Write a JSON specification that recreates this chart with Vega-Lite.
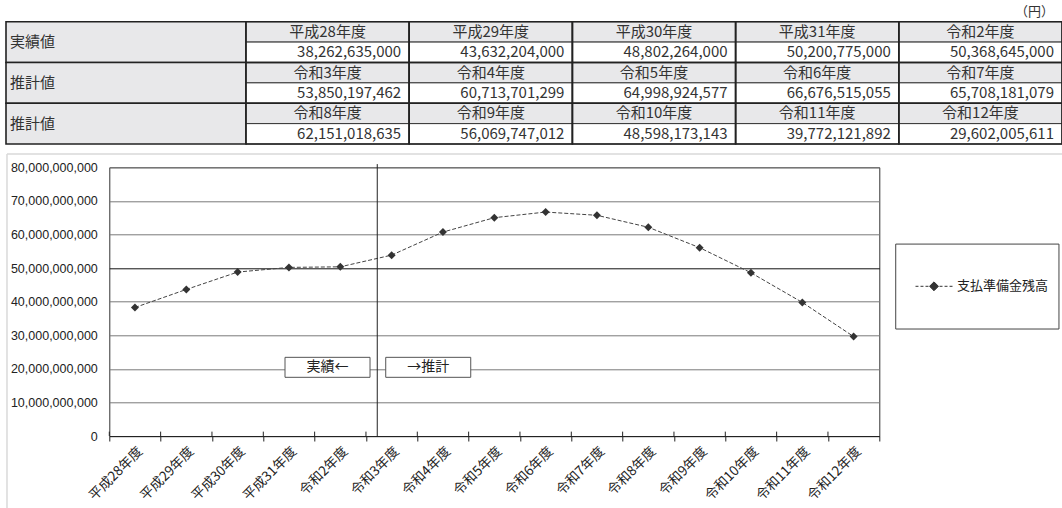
{
  "$schema": "https://vega.github.io/schema/vega-lite/v6.json",
  "autosize": {"type": "none"},
  "width": 770,
  "height": 268.7,
  "padding": {"left": 109.3, "top": 167.3, "right": 182.7, "bottom": 72},
  "background": "white",
  "config": {"view": {"stroke": "#333", "strokeWidth": 1}},
  "datasets": {
    "series": [
      {"year": "平成28年度", "value": 38262635000, "grp": 1, "col": 1},
      {"year": "平成29年度", "value": 43632204000, "grp": 1, "col": 2},
      {"year": "平成30年度", "value": 48802264000, "grp": 1, "col": 3},
      {"year": "平成31年度", "value": 50200775000, "grp": 1, "col": 4},
      {"year": "令和2年度", "value": 50368645000, "grp": 1, "col": 5},
      {"year": "令和3年度", "value": 53850197462, "grp": 2, "col": 1},
      {"year": "令和4年度", "value": 60713701299, "grp": 2, "col": 2},
      {"year": "令和5年度", "value": 64998924577, "grp": 2, "col": 3},
      {"year": "令和6年度", "value": 66676515055, "grp": 2, "col": 4},
      {"year": "令和7年度", "value": 65708181079, "grp": 2, "col": 5},
      {"year": "令和8年度", "value": 62151018635, "grp": 3, "col": 1},
      {"year": "令和9年度", "value": 56069747012, "grp": 3, "col": 2},
      {"year": "令和10年度", "value": 48598173143, "grp": 3, "col": 3},
      {"year": "令和11年度", "value": 39772121892, "grp": 3, "col": 4},
      {"year": "令和12年度", "value": 29602005611, "grp": 3, "col": 5}
    ],
    "groups": [
      {"grp": 1, "label": "実績値"},
      {"grp": 2, "label": "推計値"},
      {"grp": 3, "label": "推計値"}
    ]
  },
  "layer": [
    {
      "layer": [
        {
          "data": {"name": "groups"},
          "encoding": {
            "x": {"datum": "区分", "type": "nominal", "scale": {"type": "band", "domain": ["区分"], "range": [-103.3, 136.7], "paddingInner": 0, "paddingOuter": 0}, "axis": null},
            "y": {"field": "grp", "type": "ordinal", "scale": {"type": "band", "domain": [1, 2, 3], "range": [-145.6, -23.3], "paddingInner": 0, "paddingOuter": 0}, "axis": null}
          },
          "layer": [
            {"mark": {"type": "rect", "fill": "#e8e8ea", "stroke": "#222", "strokeWidth": 1.6}},
            {"mark": {"type": "text", "align": "left", "dx": 4, "font": "Noto Sans CJK JP", "fontSize": 15, "color": "#333"},
             "encoding": {"x": {"datum": "区分", "type": "nominal", "bandPosition": 0}, "text": {"field": "label"}}}
          ]
        },
        {
          "data": {"name": "series"},
          "encoding": {
            "x": {"field": "col", "type": "ordinal", "scale": {"type": "band", "domain": [1, 2, 3, 4, 5], "range": [136.7, 952.7], "paddingInner": 0, "paddingOuter": 0}, "axis": null},
            "y": {"field": "grp", "type": "ordinal", "axis": null}
          },
          "layer": [
            {"mark": {"type": "rect", "fill": "#e8e8ea", "stroke": "#333", "strokeWidth": 1},
             "encoding": {"yOffset": {"datum": "h", "type": "nominal", "scale": {"type": "band", "domain": ["h", "v"], "paddingInner": 0, "paddingOuter": 0}}}},
            {"mark": {"type": "rect", "fill": "white", "stroke": "#333", "strokeWidth": 1},
             "encoding": {"yOffset": {"datum": "v", "type": "nominal"}}},
            {"mark": {"type": "rect", "fill": "transparent", "stroke": "#222", "strokeWidth": 1.6}},
            {"mark": {"type": "text", "font": "Noto Sans CJK JP", "fontSize": 15, "color": "#333"},
             "encoding": {"yOffset": {"datum": "h", "type": "nominal"}, "text": {"field": "year"}}},
            {"mark": {"type": "text", "align": "right", "dx": -8, "font": "Noto Sans CJK JP", "fontSize": 15, "color": "#333"},
             "encoding": {"x": {"field": "col", "type": "ordinal", "bandPosition": 1}, "yOffset": {"datum": "v", "type": "nominal"}, "text": {"field": "value", "type": "quantitative", "format": ",d"}}},
            {"data": {"values": [{}]},
             "mark": {"type": "text", "text": "（円）", "align": "right", "baseline": "bottom", "dx": -8, "dy": -3, "font": "Noto Sans CJK JP", "fontSize": 13, "color": "#333"},
             "encoding": {"x": {"datum": 5, "type": "ordinal", "bandPosition": 1}, "y": {"datum": 1, "type": "ordinal", "bandPosition": 0}}}
          ]
        }
      ],
      "resolve": {"scale": {"x": "independent"}}
    },
    {
      "data": {"name": "series"},
      "encoding": {
        "x": {"field": "year", "type": "ordinal", "sort": null, "scale": {"type": "band", "paddingInner": 0, "paddingOuter": 0},
              "axis": {"title": null, "tickBand": "extent", "labelAngle": -45, "labelFont": "Noto Sans CJK JP", "labelFontSize": 13.5, "labelColor": "#222", "tickColor": "#222", "tickSize": 5, "domainColor": "#222", "labelPadding": 3, "grid": false}},
        "y": {"field": "value", "type": "quantitative", "scale": {"domain": [0, 80000000000], "nice": false},
              "axis": {"title": null, "values": [0, 10000000000, 20000000000, 30000000000, 40000000000, 50000000000, 60000000000, 70000000000, 80000000000], "format": ",d", "ticks": false, "domain": false, "labelPadding": 12, "labelFont": "Liberation Sans", "labelFontSize": 12.5, "labelColor": "#222", "grid": true, "gridColor": {"condition": {"test": "datum.value === 50000000000", "value": "#111"}, "value": "#7a7a7a"}, "gridWidth": 1}}
      },
      "layer": [
        {"mark": {"type": "rule", "color": "#222", "strokeWidth": 1},
         "encoding": {"x": {"field": "year", "type": "ordinal", "sort": null, "bandPosition": 0}, "y": {"datum": 0, "type": "quantitative"}, "y2": {"datum": 1300000000}}},
        {"mark": {"type": "line", "strokeDash": [4, 2], "color": "#444", "strokeWidth": 1}},
        {"mark": {"type": "point", "shape": "diamond", "filled": true, "size": 64, "opacity": 1},
         "encoding": {"color": {"datum": "支払準備金残高", "type": "nominal", "scale": {"range": ["#333"]},
           "legend": {"orient": "none", "legendX": 805.7, "legendY": 100, "title": null, "padding": 0,
             "symbolType": "M-1,0H-0.84M-0.73,0H-0.57M-0.46,0H-0.3M-0.24,0L0,-0.24L0.24,0L0,0.24ZM0.3,0H0.46M0.57,0H0.73M0.84,0H1",
             "symbolSize": 1369, "symbolStrokeWidth": 1, "symbolStrokeColor": "#333", "symbolFillColor": "#333", "labelFont": "Noto Sans CJK JP", "labelFontSize": 13, "labelColor": "#222", "labelOffset": 4,
             "encode": {"symbols": {"update": {"fill": {"value": "#333"}, "stroke": {"value": "#333"}, "strokeWidth": {"value": 1}, "strokeDash": {"value": []}, "opacity": {"value": 1}}}}}}}}
      ]
    },
    {
      "data": {"values": [{}]},
      "encoding": {
        "x": {"datum": 0, "type": "quantitative", "scale": {"domain": [0, 15], "nice": false, "zero": false}, "axis": null},
        "y": {"datum": 0, "type": "quantitative", "scale": {"domain": [0, 80000000000], "nice": false}, "axis": null}
      },
      "layer": [
        {"mark": {"type": "rule", "color": "#d9d9d9", "strokeWidth": 1.5},
         "encoding": {"x": {"datum": -1.993, "type": "quantitative"}, "x2": {"datum": 18.6}, "y": {"datum": 83930000000, "type": "quantitative"}}},
        {"mark": {"type": "rule", "color": "#d9d9d9", "strokeWidth": 1.5},
         "encoding": {"x": {"datum": -1.993, "type": "quantitative"}, "y": {"datum": 83930000000, "type": "quantitative"}, "y2": {"datum": -22000000000}}},
        {"mark": {"type": "rule", "color": "#222", "strokeWidth": 1},
         "encoding": {"x": {"datum": 5.22, "type": "quantitative"}, "y": {"datum": 80950000000, "type": "quantitative"}, "y2": {"datum": -100000000}}},
        {"mark": {"type": "rect", "fill": "white", "stroke": "#555", "strokeWidth": 1},
         "encoding": {"x": {"datum": 3.423, "type": "quantitative"}, "x2": {"datum": 5.079}, "y": {"datum": 23420000000, "type": "quantitative"}, "y2": {"datum": 17470000000}}},
        {"mark": {"type": "rect", "fill": "white", "stroke": "#555", "strokeWidth": 1},
         "encoding": {"x": {"datum": 5.385, "type": "quantitative"}, "x2": {"datum": 7.041}, "y": {"datum": 23420000000, "type": "quantitative"}, "y2": {"datum": 17470000000}}},
        {"mark": {"type": "text", "text": "実績←", "font": "Noto Sans CJK JP", "fontSize": 14, "color": "#222"},
         "encoding": {"x": {"datum": 4.251, "type": "quantitative"}, "y": {"datum": 20450000000, "type": "quantitative"}}},
        {"mark": {"type": "text", "text": "→推計", "font": "Noto Sans CJK JP", "fontSize": 14, "color": "#222"},
         "encoding": {"x": {"datum": 6.213, "type": "quantitative"}, "y": {"datum": 20450000000, "type": "quantitative"}}},
        {"mark": {"type": "rect", "fill": "white", "stroke": "#444", "strokeWidth": 1},
         "encoding": {"x": {"datum": 15.32, "type": "quantitative"}, "x2": {"datum": 18.5}, "y": {"datum": 57140000000, "type": "quantitative"}, "y2": {"datum": 31850000000}}}
      ]
    }
  ],
  "resolve": {"scale": {"x": "independent", "y": "independent"}}
}
